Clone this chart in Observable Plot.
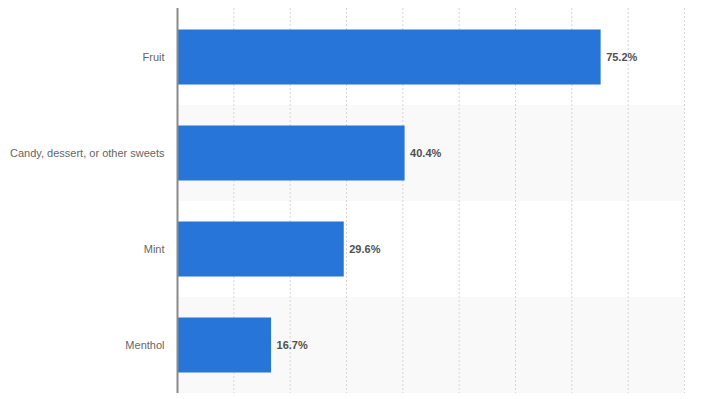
<!DOCTYPE html>
<html>
<head>
<meta charset="utf-8">
<script src="https://cdn.jsdelivr.net/npm/d3@7"></script>
<script src="https://cdn.jsdelivr.net/npm/@observablehq/plot@0.6"></script>
<style>
  html, body { margin: 0; padding: 0; background: #fff; }
  #chart svg { display: block; }
</style>
</head>
<body>
<div id="chart"></div>
<script>
const categories = ["Fruit", "Candy, dessert, or other sweets", "Mint", "Menthol"];
const values = [75.2, 40.4, 29.6, 16.7];
const shadedRows = ["Candy, dessert, or other sweets", "Menthol"];
const gridTicks = [10, 20, 30, 40, 50, 60, 70, 80, 90];
const xMax = 90;

const data = categories.map((c, i) => ({ cat: c, value: values[i] }));

const chart = Plot.plot({
  width: 711,
  height: 399,
  marginLeft: 177,
  marginRight: 27,
  marginTop: 8,
  marginBottom: 6,
  style: { fontFamily: "'Liberation Sans', Arial, sans-serif", background: "#fff" },
  x: { domain: [0, xMax], axis: null },
  y: { domain: categories, padding: 0, label: null },
  marks: [
    Plot.barX(shadedRows, { y: d => d, x1: 0, x2: xMax, fill: "#f9f9f9" }),
    Plot.ruleX(gridTicks, { stroke: "#d6d6d6", strokeDasharray: "2,2", strokeWidth: 1 }),
    Plot.barX(data, { y: "cat", x: "value", fill: "#2775d8", insetTop: 20.5, insetBottom: 20.5 }),
    Plot.ruleX([0], { stroke: "#8a8a8a", strokeWidth: 2 }),
    Plot.text(data, {
      y: "cat", x: "value", text: d => d.value.toFixed(1) + "%",
      dx: 5, textAnchor: "start", fontWeight: "bold", fontSize: 11, fill: "#505050"
    }),
    Plot.axisY({ tickSize: 0, tickPadding: 13, fontSize: 11, color: "#666", label: null })
  ]
});
document.getElementById("chart").appendChild(chart);
</script>
</body>
</html>
